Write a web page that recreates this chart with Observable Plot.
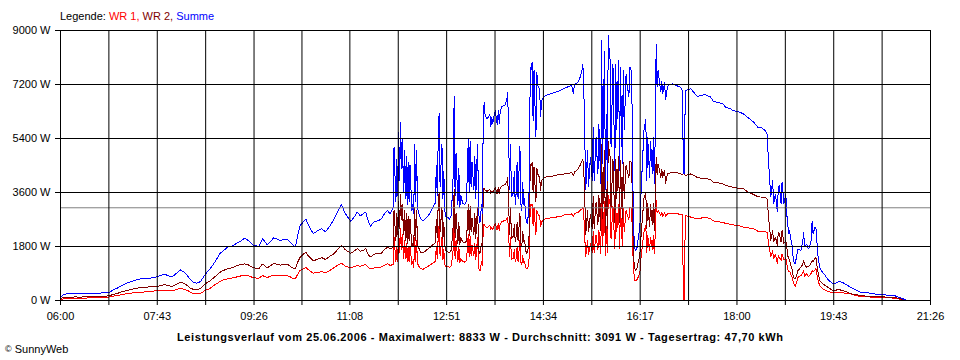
<!DOCTYPE html>
<html>
<head>
<meta charset="utf-8">
<script src="https://cdn.jsdelivr.net/npm/d3@7"></script>
<script src="https://cdn.jsdelivr.net/npm/@observablehq/plot@0.6"></script>
<style>
  html, body { margin: 0; padding: 0; background: #fff; }
  #chart { width: 960px; height: 360px; }
</style>
</head>
<body>
<div id="chart"></div>
<script>
// ---- chart values ----
const tickLabels = ["06:00","07:43","09:26","11:08","12:51","14:34","16:17","18:00","19:43","21:26"];
const yTicks = [0, 1800, 3600, 5400, 7200, 9000];
const avgValue = 3091;
const maxValue = 8833;
const dailyYield = "47,70";
const dateText = "25.06.2006";
const seriesNames = ["WR 1", "WR 2", "Summe"];

// minutes after midnight
const times = [
360,363,367,371,376,381,387,392,397,403,
410,413,416,421,424,431,434,440,445,453,
456,463,466,470,472,475,479,483,488,492,
495,498,502,505,509,514,519,523,527,530,
533,538,541,544,547,552,556,559,562,565,
568,571,575,580,583,587,591,594,597,602,
605,608,610,612,615,619,621,624,629,634,
638,642,646,651,655,659,663,669,673,676,
679,682,685,687,690,693,696,701,705,708,
711,714,715,717,718,719,720,721,722,723,
724,725,726,727,728,729,730,731,732,734,
735,736,737,738,739,740,741,743,746,750,
753,756,759,760,761,762,763,764,766,767,
768,769,770,772,774,776,778,779,780,781,
783,784,785,786,788,790,792,793,794,795,
796,797,798,800,801,802,803,804,805,806,
807,808,809,810,811,812,814,817,818,819,
820,822,823,824,825,826,827,828,830,833,
834,835,836,837,838,839,840,841,842,843,
844,845,846,847,849,850,851,852,853,854,
855,856,857,858,859,860,861,862,863,864,
866,867,868,869,870,871,872,874,876,879,
883,887,890,894,897,901,904,906,907,909,
911,913,915,916,917,918,919,921,922,924,
926,927,928,930,932,933,935,936,937,939,
940,941,942,943,944,945,946,948,950,951,
952,954,955,956,958,959,960,962,963,965,
966,967,968,969,970,971,972,973,974,975,
976,977,978,979,981,983,984,985,987,988,
990,991,992,993,994,995,996,999,1000,1001,
1003,1004,1006,1007,1011,1015,1020,1022,1023,1024,
1025,1031,1034,1038,1041,1046,1052,1055,1060,1065,
1068,1073,1076,1081,1087,1092,1098,1102,1105,1110,
1112,1114,1116,1118,1119,1121,1123,1124,1125,1127,
1128,1130,1132,1133,1134,1135,1136,1137,1139,1140,
1142,1144,1145,1148,1150,1151,1152,1154,1156,1157,
1159,1160,1161,1163,1164,1165,1166,1168,1171,1174,
1177,1182,1185,1188,1192,1196,1201,1206,1211,1219,
1225,1235,1241,1247,1254,1259,1262
];

// Summe (W)
const summe = [
110,200,220,230,220,230,240,230,250,250,
260,290,350,420,480,580,620,680,720,740,
750,790,830,870,860,820,790,900,1020,930,
830,700,600,580,630,870,1050,1220,1420,1580,
1650,1780,1800,1840,1900,1980,2080,2020,1940,1850,
1830,1790,2060,1860,1950,2090,2040,2000,2030,2020,
1930,1830,1790,2100,2500,2640,2720,2500,2230,2330,
2390,2290,2450,2700,2950,3200,2900,2640,2800,2950,
2820,2890,2950,2700,2470,2610,2640,2700,2900,3000,
2890,3100,5100,3300,4700,3500,5600,4000,5950,4400,
5400,3600,5000,3400,4800,3200,4600,3300,4500,3000,
3200,2900,5200,3300,5000,3100,2940,2750,2650,2780,
2900,3100,3250,4500,3500,5300,6250,3800,5200,3400,
4300,3000,2800,2780,2700,2850,4200,6800,3500,4900,
3200,4400,3100,3500,3250,3200,3300,4200,5400,3600,
5300,3800,4600,3700,4800,3400,4500,5200,3000,2600,
2650,3200,2900,6200,6600,6150,6050,6200,5800,6100,
5900,6250,6330,6000,5850,6350,5890,6300,6470,6520,
6580,6700,6940,5440,3700,5200,3450,3500,3600,4300,
3200,3600,4600,3400,5150,3200,3000,3950,3200,3400,
2800,2600,2560,2900,3900,7780,7700,7940,6000,7670,
5440,7600,7170,7100,7000,6110,6670,6750,6830,6870,
6900,6950,6980,7030,7090,7130,7170,6900,7200,7230,
7280,7440,7650,7890,7000,5560,3667,5000,3778,4778,
4000,5778,4000,5444,4222,5889,3889,8667,4556,8333,
3667,6222,4000,8833,8333,8000,5111,7889,4333,7889,
5667,8000,4333,7778,4556,7667,5667,7556,7222,6800,
7778,7722,7556,4333,2440,1780,1670,1720,1800,2110,
2280,2667,3667,4333,5667,6060,4000,5440,4100,5330,
4220,5440,3890,5440,8556,7110,7670,6940,7330,6890,
7280,6670,7110,7170,7220,7170,7110,7000,4220,4230,
7000,7060,6940,6800,6830,6870,6780,6630,6600,6560,
6440,6390,6330,6300,6220,6090,5940,5780,5780,5670,
5560,4444,3444,4000,3222,3556,2944,3778,3833,3222,
3944,3222,3556,2889,2556,2220,2330,2111,1780,1333,
1220,1560,1720,1670,1960,2278,1780,1890,1720,1780,
2000,2644,2220,2440,2444,2000,1560,1110,940,830,
690,560,580,630,610,530,444,360,278,260,
220,200,170,170,89,30,0
];

// WR 2 (W)
const wr2 = [
56,110,110,110,120,110,130,140,140,145,
150,170,200,240,280,330,360,400,440,450,
460,467,490,520,520,490,470,540,610,560,
500,420,360,360,400,556,650,756,860,944,
1000,1056,1080,1110,1150,1200,1220,1200,1150,1090,
1080,1060,1220,1090,1150,1240,1200,1180,1210,1200,
1130,1070,1060,1250,1440,1560,1610,1480,1320,1380,
1430,1370,1460,1560,1700,1830,1700,1570,1660,1730,
1640,1667,1730,1550,1450,1530,1560,1560,1700,1780,
1720,1780,3000,2000,2900,2200,3300,2400,3550,2700,
3200,2200,3000,2000,2900,1900,2800,2000,2700,1800,
1900,1800,3100,2000,3000,1850,1780,1620,1580,1700,
1760,1850,1930,2700,2100,3200,3600,2300,3100,2050,
2600,1800,1680,1620,1600,1680,2500,3700,2100,2900,
1900,2600,1850,2100,1950,1920,1980,2500,3200,2150,
3150,2300,2750,2200,2900,2050,2700,3100,1700,1550,
1600,1900,1700,3700,3750,3680,3640,3700,3550,3650,
3600,3720,3760,3600,3550,3780,3560,3750,3830,3860,
3900,3960,4110,3200,2200,3100,2050,2100,2150,2550,
1950,2150,2600,2000,2900,1900,1800,2300,1950,2000,
1700,1560,1610,1800,2300,4550,4500,4610,3600,4450,
3300,4400,4220,4150,4100,3650,4000,4070,4110,4130,
4140,4170,4200,4210,4220,4240,4270,4150,4280,4320,
4390,4500,4650,4720,4300,3440,2200,3000,2270,2870,
2400,3470,2400,3270,2530,3530,2330,5200,2730,5000,
2200,3730,2400,5300,5000,4800,3070,4730,2600,4730,
3400,4800,2600,4670,2730,4600,3400,4530,4330,4100,
4660,4630,4530,2600,1400,1100,1000,1050,1110,1300,
1400,1667,2200,2600,3400,3600,2400,3250,2450,3200,
2530,3260,2330,3260,4780,4200,4560,4100,4380,4100,
4350,3900,4220,4230,4280,4280,4220,4200,4220,4230,
4170,4220,4170,4100,4080,4070,4030,3944,3920,3890,
3833,3800,3770,3744,3720,3611,3530,3460,3450,3440,
3380,2667,2000,2333,1944,2111,1833,2278,2222,1944,
2333,1900,2000,1800,1500,1400,1350,1222,1000,778,
720,890,1000,1111,1200,1333,1200,1111,1150,1150,
1250,1333,1300,1400,1444,1200,1000,670,556,500,
440,333,340,370,333,300,222,200,170,140,
133,120,110,100,60,10,0
];

// WR 1 (W)
const wr1 = [
22,56,56,60,60,70,80,90,100,110,
111,120,145,170,190,230,244,260,278,290,
300,333,340,350,350,330,320,360,411,370,
340,280,222,220,240,333,400,500,570,644,
680,722,740,760,780,820,850,830,800,760,
750,740,830,770,800,850,830,820,830,820,
780,730,720,850,1000,1060,1110,1020,910,940,
960,920,990,1090,1180,1244,1150,1089,1130,1167,
1140,1167,1200,1120,1050,1080,1100,1110,1180,1220,
1170,1200,2100,1300,1800,1300,2300,1600,2400,1700,
2200,1400,2000,1400,1900,1300,1800,1300,1800,1200,
1300,1100,2100,1300,2000,1250,1160,1060,1040,1120,
1170,1240,1300,1800,1400,2100,2550,1500,2100,1350,
1700,1200,1120,1150,1100,1170,1700,2600,1400,2000,
1300,1800,1250,1400,1300,1280,1320,1700,2200,1450,
2150,1500,1850,1500,1900,1350,1800,2100,1100,1000,
1000,1300,1150,2500,2550,2480,2420,2500,2350,2450,
2350,2520,2570,2400,2350,2570,2330,2550,2640,2660,
2680,2740,2780,2200,1450,2100,1350,1400,1400,1700,
1300,1400,1800,1300,2000,1250,1200,1500,1250,1300,
1100,1050,1060,1150,1500,3200,3150,3220,2500,3100,
2200,3000,2900,2850,2800,2450,2611,2680,2720,2740,
2760,2780,2790,2820,2860,2870,2890,2780,2910,2920,
2940,3000,3050,3110,2850,2110,1467,2000,1510,1910,
1600,2310,1600,2180,1690,2360,1560,3400,1820,3330,
1470,2490,1600,3530,3330,3200,2040,3160,1730,3160,
2270,3200,1730,3110,1820,3070,2270,3020,2890,2700,
3110,3090,3020,1730,1040,680,667,680,700,800,
880,1000,1470,1730,2270,2500,1600,2190,1650,2130,
1690,2180,1560,2180,3333,2910,3000,2840,2950,2800,
2930,2800,2890,2900,2900,2900,2870,2850,0,0,
2830,2780,2750,2720,2740,2780,2730,2650,2630,2600,
2570,2540,2520,2500,2444,2420,2390,2311,2311,2300,
2270,1833,1444,1667,1389,1556,1222,1500,1444,1333,
1556,1350,1400,1250,1056,960,980,889,750,611,
467,670,770,833,900,1000,780,900,800,830,
900,1000,950,1020,1056,900,700,500,389,350,
300,256,256,260,260,240,220,170,133,120,
110,100,90,80,40,10,0
];

// ---- build ----
const toMin = s => { const [h, m] = s.split(":").map(Number); return h * 60 + m; };
const tickMinutes = tickLabels.map(toMin);
const labelOf = new Map(tickMinutes.map((m, i) => [m, tickLabels[i]]));
const gridX = [];
tickMinutes.forEach((m, i) => {
  gridX.push(m);
  if (i < tickMinutes.length - 1) gridX.push((m + tickMinutes[i + 1]) / 2);
});

const rows = times.map((t, i) => ({t, s: summe[i], w1: wr1[i], w2: wr2[i]}));

const colors = {wr1: "#ff0000", wr2: "#800000", summe: "#0000ff", avg: "#808080"};
const FONT = "'Liberation Sans', Arial, sans-serif";

const chart = Plot.plot({
  width: 960,
  height: 360,
  marginTop: 30,
  marginRight: 30,
  marginBottom: 60,
  marginLeft: 60,
  style: {fontFamily: FONT, fontSize: "11px", color: "#000", background: "#fff", overflow: "visible"},
  x: {domain: [tickMinutes[0], tickMinutes[tickMinutes.length - 1]]},
  y: {domain: [yTicks[0], yTicks[yTicks.length - 1]]},
  marks: [
    Plot.line(rows, {x: "t", y: "w1", stroke: colors.wr1, strokeWidth: 1, strokeLinejoin: "miter"}),
    Plot.line(rows, {x: "t", y: "w2", stroke: colors.wr2, strokeWidth: 1, strokeLinejoin: "miter"}),
    Plot.line(rows, {x: "t", y: "s", stroke: colors.summe, strokeWidth: 1, strokeLinejoin: "miter"}),
    Plot.ruleY([avgValue], {stroke: colors.avg, strokeWidth: 1}),
    Plot.ruleY(yTicks, {stroke: "#000", strokeWidth: 1, insetLeft: -5}),
    Plot.ruleX(gridX, {stroke: "#000", strokeWidth: 1, insetBottom: -5}),
    Plot.axisY(yTicks, {tickSize: 0, tickPadding: 10, tickFormat: d => d + " W", label: null, fontSize: 11}),
    Plot.axisX(tickMinutes, {tickSize: 0, tickPadding: 12, tickFormat: d => labelOf.get(d), label: null, fontSize: 11})
  ]
});

chart.querySelectorAll("path").forEach(p => p.setAttribute("shape-rendering", "crispEdges"));

const svg = d3.select(chart);
// legend
const leg = svg.append("text").attr("x", 60).attr("y", 20)
  .attr("text-anchor", "start")
  .attr("font-family", FONT).attr("font-size", 11).attr("fill", "#000");
leg.append("tspan").text("Legende: ");
leg.append("tspan").attr("fill", colors.wr1).text(seriesNames[0] + ", ");
leg.append("tspan").attr("fill", colors.wr2).text(seriesNames[1] + ", ");
leg.append("tspan").attr("fill", colors.summe).text(seriesNames[2]);

// title line below the plot
svg.append("text").attr("x", 480).attr("y", 340.5)
  .attr("text-anchor", "middle").attr("font-family", FONT).attr("font-size", 11)
  .attr("font-weight", "bold").attr("fill", "#000")
  .attr("textLength", 606).attr("lengthAdjust", "spacing")
  .text(`Leistungsverlauf vom ${dateText} - Maximalwert: ${maxValue} W - Durchschnitt: ${avgValue} W - Tagesertrag: ${dailyYield} kWh`);

// copyright
const cp = svg.append("text").attr("x", 5).attr("y", 352.5)
  .attr("text-anchor", "start")
  .attr("font-family", FONT).attr("font-size", 11).attr("fill", "#000");
cp.append("tspan").attr("font-size", 9).attr("dy", -1).text("©");
cp.append("tspan").attr("dy", 1).text(" SunnyWeb");

document.getElementById("chart").appendChild(chart);
</script>
</body>
</html>
